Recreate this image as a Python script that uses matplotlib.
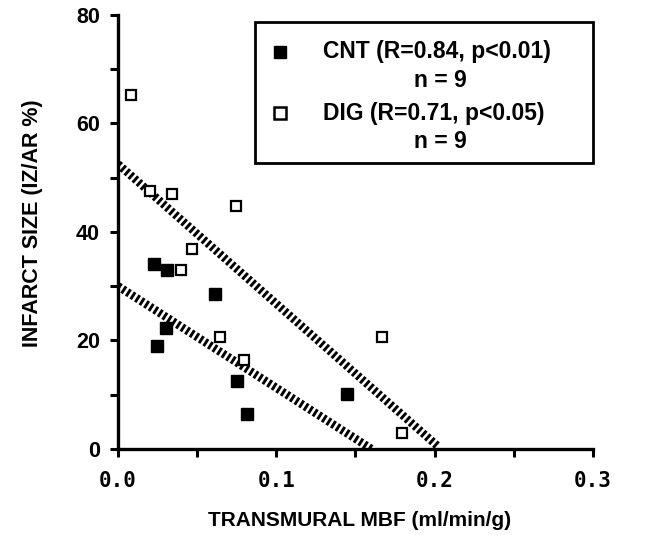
import numpy as np
import matplotlib.pyplot as plt
from matplotlib.patches import Rectangle
from matplotlib.ticker import MultipleLocator

# Data
cnt_mbf = [0.0225, 0.031, 0.061, 0.030, 0.0245, 0.075, 0.0815, 0.145]
cnt_size = [34.1, 33.0, 28.5, 22.2, 18.9, 12.6, 6.4, 10.1]
dig_mbf = [0.0082, 0.0204, 0.0344, 0.0744, 0.047, 0.0396, 0.0642, 0.0796, 0.167, 0.1796]
dig_size = [65.2, 47.6, 46.9, 44.7, 36.9, 33.0, 20.6, 16.4, 20.6, 2.9]

# regression lines (end points)
cnt_fit_x = [0.0, 0.160]
cnt_fit_y = [30.0, 0.0]
dig_fit_x = [0.0, 0.202]
dig_fit_y = [52.5, 0.5]

xticks = [0.0, 0.1, 0.2, 0.3]
yticks = [0, 20, 40, 60, 80]

legend_main = ["CNT (R=0.84, p<0.01)", "DIG (R=0.71, p<0.05)"]
legend_n = ["n = 9", "n = 9"]

plt.rcParams["font.family"] = ["Liberation Sans", "DejaVu Sans"]
plt.rcParams["font.weight"] = "bold"

fig = plt.figure(figsize=(6.45, 5.35), dpi=100)
ax = fig.add_axes([0.183, 0.161, 0.736, 0.811])

hatch = dict(color="k", lw=6, dashes=(0.35, 0.3), solid_capstyle="butt",
             dash_capstyle="butt", zorder=2)
ax.plot(cnt_fit_x, cnt_fit_y, **hatch)
ax.plot(dig_fit_x, dig_fit_y, **hatch)

ax.plot(cnt_mbf, cnt_size, "s", ms=8.5, mfc="k", mec="k", mew=1, ls="none", zorder=3)
ax.plot(dig_mbf, dig_size, "s", ms=7, mfc="w", mec="k", mew=1.6, ls="none", zorder=3)

ax.set_xlim(0, 0.3)
ax.set_ylim(0, 80)
ax.set_xticks(xticks)
ax.set_xticklabels([f"{v:.1f}" for v in xticks], family="DejaVu Sans Mono",
                   fontsize=15, fontweight="bold")
ax.set_yticks(yticks)
ax.set_yticklabels([str(v) for v in yticks], fontsize=15.5, fontweight="bold")
ax.xaxis.set_minor_locator(MultipleLocator(0.05))
ax.yaxis.set_minor_locator(MultipleLocator(10))
ax.tick_params(axis="both", which="both", direction="out", length=6, width=2.2)
ax.tick_params(axis="y", pad=7)
ax.tick_params(axis="x", pad=10)

for side in ["top", "right"]:
    ax.spines[side].set_visible(False)
for side in ["left", "bottom"]:
    ax.spines[side].set_linewidth(2.4)

fig.text(0.558, 0.028, "TRANSMURAL MBF (ml/min/g)", fontsize=15,
         fontweight="bold", ha="center", va="center")
fig.text(0.050, 0.583, "INFARCT SIZE (IZ/AR %)", fontsize=15.5,
         fontweight="bold", ha="center", va="center", rotation=90)

# legend box drawn by hand (first text line sits next to the marker)
ax.add_patch(Rectangle((0.288, 0.659), 0.712, 0.325, transform=ax.transAxes,
                       fill=True, fc="w", ec="k", lw=2, zorder=4, clip_on=False))
ax.plot([0.341], [0.915], "s", ms=9, mfc="k", mec="k", transform=ax.transAxes,
        zorder=5, clip_on=False)
ax.plot([0.341], [0.774], "s", ms=8, mfc="w", mec="k", mew=1.8,
        transform=ax.transAxes, zorder=5, clip_on=False)
for txt, n, y in zip(legend_main, legend_n, [0.915, 0.774]):
    ax.text(0.432, y, txt, transform=ax.transAxes, fontsize=16.5,
            fontweight="bold", ha="left", va="center", zorder=5)
    ax.text(0.678, y - 0.065, n, transform=ax.transAxes, fontsize=16.5,
            fontweight="bold", ha="center", va="center", zorder=5)

fig.savefig("out.png", dpi=100)
